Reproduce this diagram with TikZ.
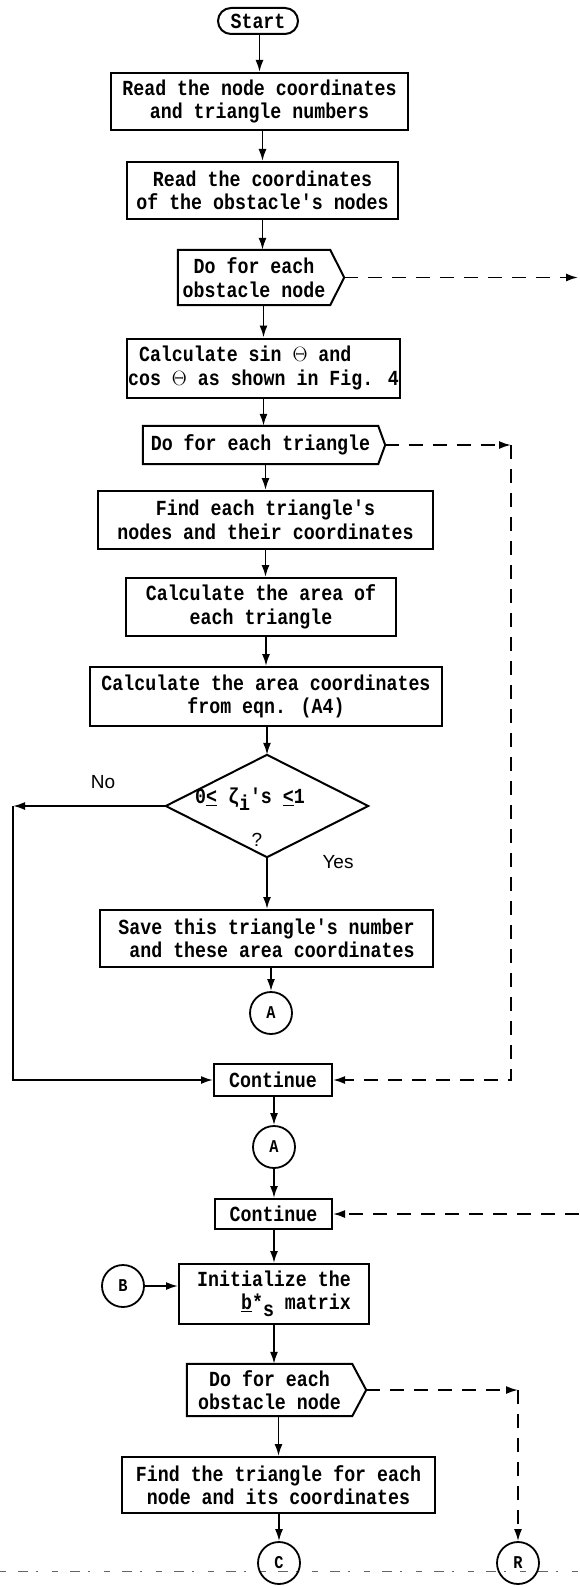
\documentclass[tikz,border=0pt]{standalone}
\usepackage{fontspec}
\usetikzlibrary{arrows.meta,calc}
\newfontfamily\tw[FakeStretch=0.85]{Liberation Mono}
\newfontfamily\sfl{Liberation Sans}
\newcommand{\thet}{\ensuremath{\Theta}}
\begin{document}
\begin{tikzpicture}[x=1pt,y=-1pt,
 txt/.style={font={\tw\bfseries\fontsize{21.5}{23.5}\selectfont}},
 box/.style={txt, draw, line width=2pt, inner sep=0pt, align=center},
 loopbox/.style={txt, inner sep=0pt, align=center},
 outline/.style={line width=2pt, line join=miter},
 conn/.style={circle, draw, line width=1.8pt, minimum size=42pt, inner sep=0pt, font={\tw\bfseries\fontsize{18}{20}\selectfont}},
 arr/.style={line width=1.8pt, -{Latex[length=12pt,width=8pt]}},
 darr/.style={arr, dash pattern=on 14pt off 10pt},
 lab/.style={font={\sfl\fontsize{19}{21}\selectfont}, inner sep=0pt},
 cutline/.style={line width=0.8pt, black!60, dash pattern=on 6pt off 12pt on 10pt off 8pt on 2pt off 14pt}
]
\useasboundingbox (0,0) rectangle (579,1586);
% bottom broken line
\coordinate (bl) at (0,1571);
\coordinate (br) at (579,1571);
\draw[cutline] (bl) -- (br);

\node[box, rounded corners=13pt, minimum width=80pt, minimum height=26pt] (start) at (258,21) {Start};
\node[box, minimum width=297pt, minimum height=57pt] (b1) at (259.5,101.5) {Read the node coordinates\\and triangle numbers};
\node[box, minimum width=271pt, minimum height=57pt] (b2) at (262.5,190.5) {Read the coordinates\\of the obstacle's nodes};
\node[loopbox, minimum width=152pt, minimum height=55pt] (l1) at (254,277.5) {Do for each\\obstacle node};
\coordinate (l1t) at ($(l1.east)+(14,0)$);
\draw[outline] (l1.north west) -- (l1.north east) -- (l1t) -- (l1.south east) -- (l1.south west) -- cycle;
\node[box, align=left, minimum width=273pt, minimum height=59pt] (b3) at (263.5,368) {\hphantom{x}Calculate sin \thet{} and\\cos \thet{} as shown in Fig. 4};
\node[loopbox, minimum width=235pt, minimum height=38pt] (l2) at (260.5,445) {Do for each triangle};
\coordinate (l2t) at ($(l2.east)+(7,0)$);
\draw[outline] (l2.north west) -- (l2.north east) -- (l2t) -- (l2.south east) -- (l2.south west) -- cycle;
\node[box, minimum width=335pt, minimum height=58pt] (b4) at (265.5,520) {Find each triangle's\\nodes and their coordinates};
\node[box, minimum width=270pt, minimum height=58pt] (b5) at (261,607) {Calculate the area of\\each triangle};
\node[box, minimum width=352pt, minimum height=59pt] (b6) at (266,696.5) {Calculate the area coordinates\\from eqn. (A4)};
\node[minimum width=202pt, minimum height=102pt, inner sep=0pt] (dia) at (267,806) {};
\draw[outline] (dia.north) -- (dia.east) -- (dia.south) -- (dia.west) -- cycle;
\node[txt, inner sep=0pt] (cond) at (250,799) {0\underline{<} ζ\raisebox{-7pt}{i}'s \underline{<}1};
\node[lab] (q) at (257,840) {?};
\node[lab] (no) at (103,782) {No};
\node[lab] (yes) at (338,862) {Yes};
\node[box, align=left, minimum width=333pt, minimum height=57pt] (b7) at (266.5,938.5) {Save this triangle's number\\\hphantom{x}and these area coordinates};
\node[conn] (a1) at (271,1013) {A};
\node[box, minimum width=118pt, minimum height=32pt] (c1) at (273,1080) {Continue};
\node[conn] (a2) at (274,1147) {A};
\node[box, minimum width=117pt, minimum height=30pt] (c2) at (273.5,1214) {Continue};
\node[box, align=left, minimum width=190pt, minimum height=60pt] (init) at (274,1294) {Initialize the\\\hphantom{xxxx}\underline{b}*\raisebox{-7pt}{s} matrix};
\node[conn] (bb) at (123,1286) {B};
\node[loopbox, minimum width=165pt, minimum height=52pt] (l3) at (269.5,1390) {Do for each\\obstacle node};
\coordinate (l3t) at ($(l3.east)+(14,0)$);
\draw[outline] (l3.north west) -- (l3.north east) -- (l3t) -- (l3.south east) -- (l3.south west) -- cycle;
\node[box, minimum width=313pt, minimum height=56pt] (b8) at (278.5,1485) {Find the triangle for each\\node and its coordinates};
\node[conn] (cc) at (279,1563) {C};
\node[conn] (rr) at (518,1563) {R};

% main flow
\draw[arr] (start.south -| b1.north) -- (b1.north);
\draw[arr] (b1.south -| b2.north) -- (b2.north);
\draw[arr] (b2.south) -- (b2.south |- l1.north);
\draw[arr] (l1.south -| b3.north) -- (b3.north);
\draw[arr] (b3.south) -- (b3.south |- l2.north);
\draw[arr] (l2.south -| b4.north) -- (b4.north);
\draw[arr] (b4.south) -- (b4.south |- b5.north);
\draw[arr] (b5.south -| b6.north) -- (b6.north);
\draw[arr] (b6.south -| dia.north) -- (dia.north);
\draw[arr] (dia.south) -- (dia.south |- b7.north);
\draw[arr] (b7.south -| a1.north) -- (a1.north);
\coordinate (nl) at (13,806);
\draw[arr] (dia.west) -- (nl);
\draw[arr] (nl) |- (c1.west);
\draw[arr] (c1.south -| a2.north) -- (a2.north);
\draw[arr] (a2.south) -- (a2.south |- c2.north);
\draw[arr] (c2.south -| init.north) -- (init.north);
\draw[arr] (init.south) -- (init.south |- l3.north);
\draw[arr] (l3.south -| b8.north) -- (b8.north);
\draw[arr] (b8.south -| cc.north) -- (cc.north);
\draw[arr] (bb) -- (bb -| init.west);

% loop returns
\coordinate (e1) at (578,277.5);
\draw[darr] (l1t) -- (e1);
\coordinate (k2) at (511,445);
\draw[darr] (l2t) -- (k2);
\draw[darr] (k2) |- (c1.east);
\coordinate (e2) at (579,1214);
\draw[darr] (e2) -- (c2.east);
\coordinate (k3) at (518,1390);
\draw[darr] (l3t) -- (k3);
\draw[darr] (k3) -- (rr.north);
\end{tikzpicture}
\end{document}
